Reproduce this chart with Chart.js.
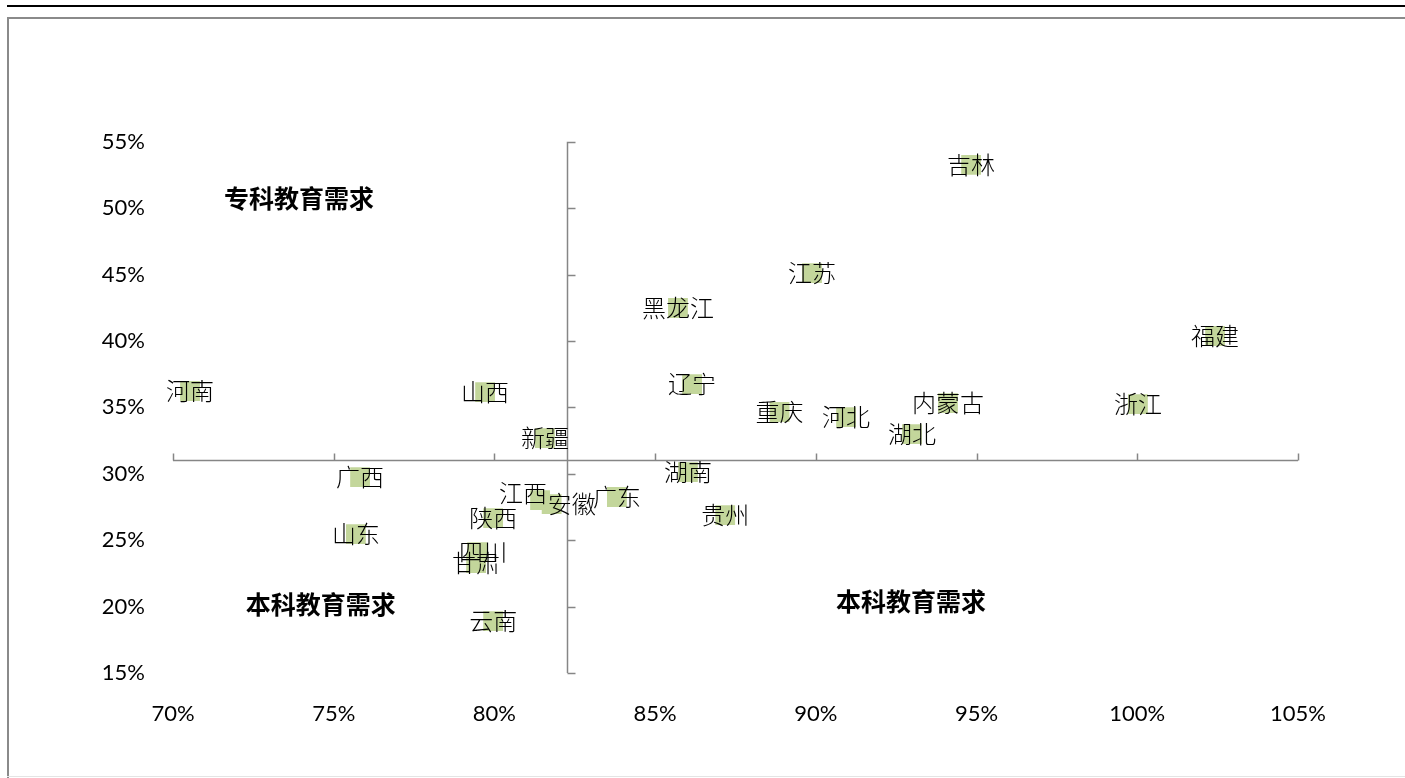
<!DOCTYPE html>
<html>
<head>
<meta charset="utf-8">
<script src="https://cdn.jsdelivr.net/npm/chart.js@4/dist/chart.umd.min.js"></script>
<style>
  html, body { margin: 0; padding: 0; background: #fff; }
  #wrap { position: relative; width: 1405px; height: 778px; }
  canvas { display: block; }
</style>
</head>
<body>
<div id="wrap"><canvas id="chart" width="1405" height="778"></canvas></div>
<script>
// Provinces and their two ratios (percent)
const provinces = ['河南','山西','新疆','广西','山东','江西','安徽','广东','陕西','四川','甘肃','云南',
                   '湖南','贵州','辽宁','黑龙江','江苏','重庆','河北','湖北','内蒙古','吉林','浙江','福建'];
const xRatio = [70.53, 79.71, 81.57, 75.82, 75.69, 81.42, 81.78, 83.81, 79.96, 79.46, 79.43, 79.96,
                86.02, 87.18, 86.15, 85.71, 89.88, 88.87, 90.94, 92.99, 94.11, 94.83, 100.02, 102.42];
const yRatio = [36.23, 36.15, 32.69, 29.75, 25.46, 28.02, 27.72, 28.25, 26.66, 24.10, 23.28, 18.91,
                30.13, 26.89, 36.75, 42.48, 45.11, 34.65, 34.27, 32.99, 35.32, 53.25, 35.24, 40.37];

// Axis ranges and ticks
const xTicks = [70, 75, 80, 85, 90, 95, 100, 105];
const yTicks = [15, 20, 25, 30, 35, 40, 45, 50, 55];

// Where the two axis lines cross (percent)
const crossX = 82.25;
const crossY = 31.0;

// Quadrant captions
const quadrantNotes = [
  { text: '专科教育需求', x: 73.92, y: 50.69 },
  { text: '本科教育需求', x: 74.60, y: 20.19 },
  { text: '本科教育需求', x: 92.96, y: 20.41 }
];

// Nudges for crowded labels (pixels)
const labelNudge = { '江西': [-17, -7], '安徽': [20, 0], '四川': [6, 0] };

const framePlugin = {
  id: 'frame',
  beforeDraw(chart) {
    const ctx = chart.ctx;
    ctx.save();
    ctx.fillStyle = '#ffffff';
    ctx.fillRect(0, 0, chart.width, chart.height);
    ctx.fillStyle = '#000000';
    ctx.fillRect(7, 5, chart.width - 7, 2);
    ctx.fillStyle = '#8a8a8a';
    ctx.fillRect(7, 17, chart.width - 7, 2);
    ctx.fillRect(7, 17, 2, chart.height - 17);
    ctx.fillStyle = '#e4e4e4';
    ctx.fillRect(7, 776, chart.width - 7, 1);
    ctx.restore();
  }
};

const crossAxesPlugin = {
  id: 'crossAxes',
  beforeDatasetsDraw(chart) {
    const ctx = chart.ctx;
    const xs = chart.scales.x, ys = chart.scales.y;
    const px = Math.round(xs.getPixelForValue(crossX)) + 0.5;
    const py = Math.round(ys.getPixelForValue(crossY)) + 0.5;
    ctx.save();
    ctx.strokeStyle = '#868686';
    ctx.lineWidth = 1.5;
    ctx.beginPath();
    ctx.moveTo(xs.left, py);
    ctx.lineTo(xs.right, py);
    xTicks.forEach(v => {
      const tx = Math.round(xs.getPixelForValue(v)) + 0.5;
      ctx.moveTo(tx, py);
      ctx.lineTo(tx, py - 7);
    });
    ctx.moveTo(px, ys.top);
    ctx.lineTo(px, ys.bottom);
    yTicks.forEach(v => {
      const ty = Math.round(ys.getPixelForValue(v)) + 0.5;
      ctx.moveTo(px, ty);
      ctx.lineTo(px + 8, ty);
    });
    ctx.stroke();
    ctx.restore();
  }
};

const pointLabelPlugin = {
  id: 'pointLabels',
  afterDatasetsDraw(chart) {
    const ctx = chart.ctx;
    const meta = chart.getDatasetMeta(0);
    ctx.save();
    ctx.font = '300 24px "Noto Sans CJK SC"';
    ctx.fillStyle = '#000000';
    ctx.textAlign = 'center';
    ctx.textBaseline = 'middle';
    meta.data.forEach((pt, i) => {
      const name = provinces[i];
      const n = labelNudge[name] || [0, 0];
      ctx.fillText(name, pt.x + n[0], pt.y + n[1]);
    });
    ctx.restore();
  }
};

const notesPlugin = {
  id: 'quadrantNotes',
  afterDatasetsDraw(chart) {
    const ctx = chart.ctx;
    const xs = chart.scales.x, ys = chart.scales.y;
    ctx.save();
    ctx.font = 'bold 25px "Noto Sans CJK SC"';
    ctx.fillStyle = '#000000';
    ctx.textAlign = 'center';
    ctx.textBaseline = 'middle';
    quadrantNotes.forEach(n => {
      ctx.fillText(n.text, xs.getPixelForValue(n.x), ys.getPixelForValue(n.y));
    });
    ctx.restore();
  }
};

const tickFont = { family: 'Lato', size: 22 };

new Chart(document.getElementById('chart'), {
  type: 'scatter',
  data: {
    datasets: [{
      data: provinces.map((p, i) => ({ x: xRatio[i], y: yRatio[i] })),
      pointStyle: 'rect',
      pointRadius: 14,
      pointHoverRadius: 14,
      backgroundColor: '#C3D69B',
      borderWidth: 0
    }]
  },
  options: {
    responsive: false,
    animation: false,
    devicePixelRatio: 1,
    layout: { padding: { left: 0, top: 141.7, right: 107, bottom: 0 } },
    plugins: { legend: { display: false }, tooltip: { enabled: false } },
    scales: {
      x: {
        type: 'linear', min: 70, max: 105,
        afterBuildTicks: s => { s.ticks = xTicks.map(v => ({ value: v })); },
        ticks: { callback: v => v + '%', font: tickFont, color: '#000', padding: 20, maxRotation: 0 },
        grid: { display: false }, border: { display: false },
        afterFit: s => { s.height = 105; }
      },
      y: {
        type: 'linear', min: 15, max: 55,
        afterBuildTicks: s => { s.ticks = yTicks.map(v => ({ value: v })); },
        ticks: { callback: v => v + '%', font: tickFont, color: '#000', padding: 20 },
        grid: { display: false }, border: { display: false },
        afterFit: s => { s.width = 173; }
      }
    }
  },
  plugins: [framePlugin, crossAxesPlugin, pointLabelPlugin, notesPlugin]
});
</script>
</body>
</html>
